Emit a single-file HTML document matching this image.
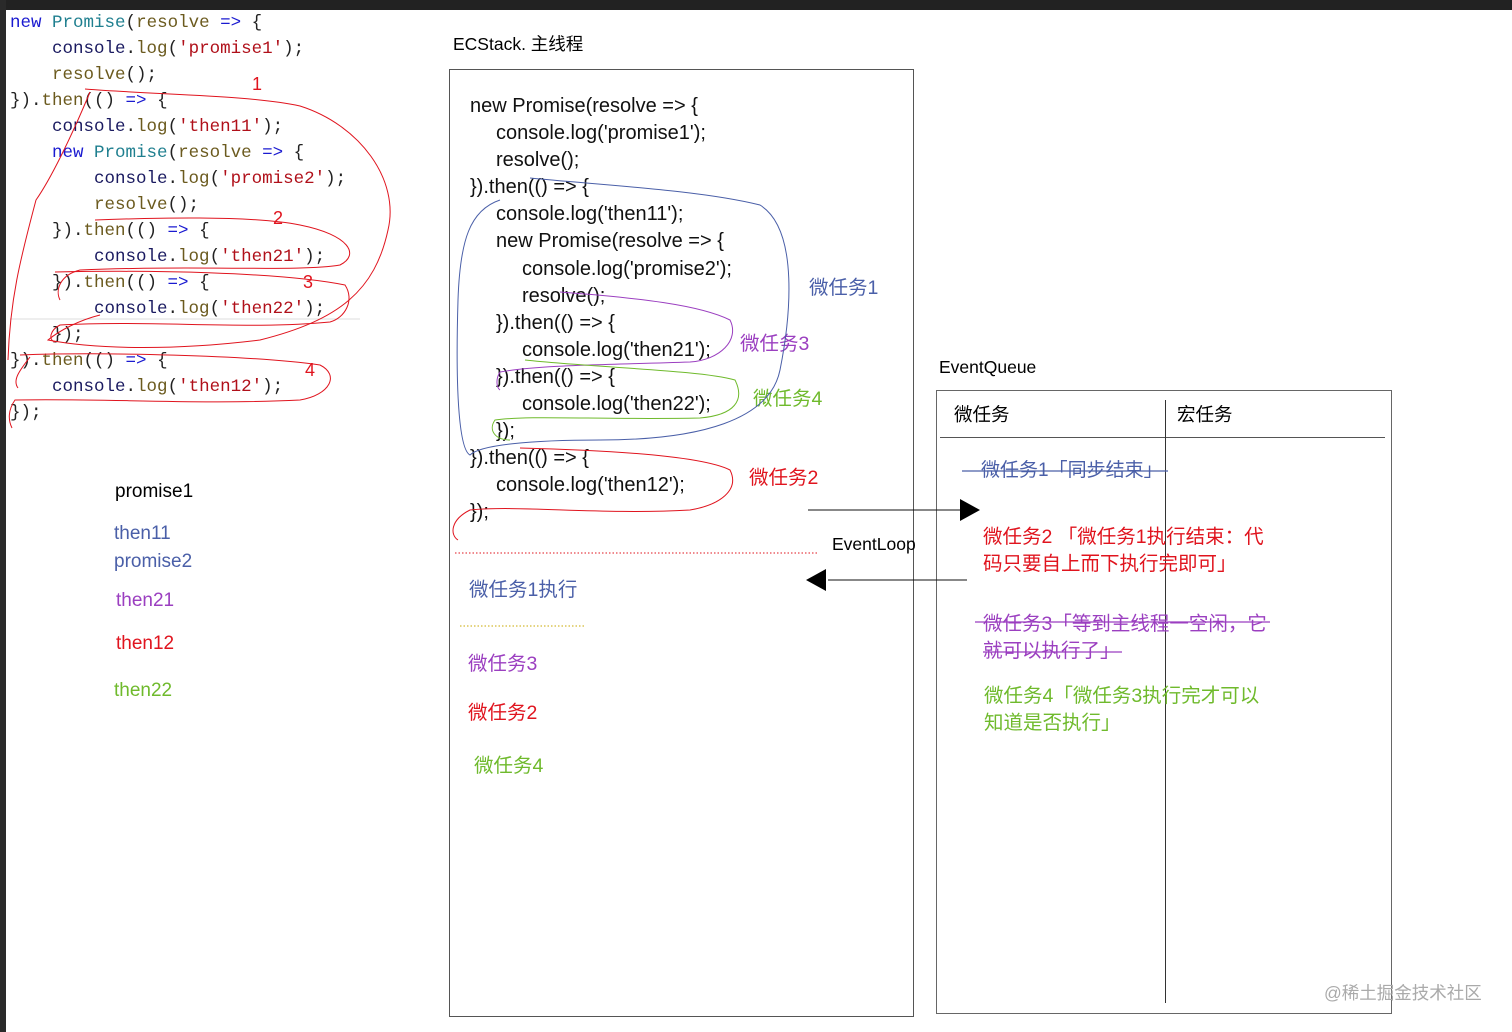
<!DOCTYPE html>
<html><head><meta charset="utf-8"><style>
body{margin:0;width:1512px;height:1032px;background:#fff;position:relative;overflow:hidden;font-family:"Liberation Sans","Noto Sans CJK SC",sans-serif}
.a{position:absolute;white-space:pre;line-height:1}
.m{font-family:"Liberation Mono",monospace;font-size:17.5px}
.s{position:absolute;font-size:20px;color:#111;line-height:27.1px;white-space:nowrap}
.s div{height:27.1px}
.i1{padding-left:26px}.i2{padding-left:52px}
.k{color:#1a1ad0}.t{color:#1f7f8f}.f{color:#6b5a1e}.st{color:#b0101a}.d{color:#1a1a60}
</style></head><body>
<div style="position:absolute;left:0;top:0;width:1512px;height:10px;background:#222"></div>
<div style="position:absolute;left:0;top:0;width:6px;height:1032px;background:#2a2a2a"></div>

<div class="a m" style="left:10px;top:10px;line-height:26px;color:#222"><span class="k">new</span> <span class="t">Promise</span>(<span class="f">resolve</span> <span class="k">=&gt;</span> {
    <span class="d">console</span>.<span class="f">log</span>(<span class="st">'promise1'</span>);
    <span class="f">resolve</span>();
}).<span class="f">then</span>(() <span class="k">=&gt;</span> {
    <span class="d">console</span>.<span class="f">log</span>(<span class="st">'then11'</span>);
    <span class="k">new</span> <span class="t">Promise</span>(<span class="f">resolve</span> <span class="k">=&gt;</span> {
        <span class="d">console</span>.<span class="f">log</span>(<span class="st">'promise2'</span>);
        <span class="f">resolve</span>();
    }).<span class="f">then</span>(() <span class="k">=&gt;</span> {
        <span class="d">console</span>.<span class="f">log</span>(<span class="st">'then21'</span>);
    }).<span class="f">then</span>(() <span class="k">=&gt;</span> {
        <span class="d">console</span>.<span class="f">log</span>(<span class="st">'then22'</span>);
    });
}).<span class="f">then</span>(() <span class="k">=&gt;</span> {
    <span class="d">console</span>.<span class="f">log</span>(<span class="st">'then12'</span>);
});</div>

<div class="a" style="left:115px;top:482px;font-size:19px">promise1</div>
<div class="a" style="left:114px;top:520px;font-size:19px;color:#4a5fa8;line-height:28px">then11
promise2</div>
<div class="a" style="left:116px;top:591px;font-size:19px;color:#9b3fc0">then21</div>
<div class="a" style="left:116px;top:634px;font-size:19px;color:#e0141e">then12</div>
<div class="a" style="left:114px;top:681px;font-size:19px;color:#6fba2c">then22</div>

<div class="a" style="left:453px;top:36px;font-size:17.5px">ECStack. 主线程</div>
<div style="position:absolute;left:449px;top:69px;width:463px;height:946px;border:1px solid #555"></div>
<div class="s" style="left:470px;top:93px"><div>new Promise(resolve =&gt; {</div><div class="i1">console.log('promise1');</div><div class="i1">resolve();</div><div>}).then(() =&gt; {</div><div class="i1">console.log('then11');</div><div class="i1">new Promise(resolve =&gt; {</div><div class="i2">console.log('promise2');</div><div class="i2">resolve();</div><div class="i1">}).then(() =&gt; {</div><div class="i2">console.log('then21');</div><div class="i1">}).then(() =&gt; {</div><div class="i2">console.log('then22');</div><div class="i1">});</div><div>}).then(() =&gt; {</div><div class="i1">console.log('then12');</div><div>});</div></div>
<div class="a" style="left:809px;top:279px;font-size:19.5px;color:#4a5fa8">微任务1</div>
<div class="a" style="left:740px;top:335px;font-size:19.5px;color:#9b3fc0">微任务3</div>
<div class="a" style="left:753px;top:390px;font-size:19.5px;color:#6fba2c">微任务4</div>
<div class="a" style="left:749px;top:469px;font-size:19.5px;color:#e0141e">微任务2</div>
<div class="a" style="left:832px;top:536px;font-size:17.5px">EventLoop</div>
<div class="a" style="left:469px;top:581px;font-size:19.5px;color:#4a5fa8">微任务1执行</div>
<div class="a" style="left:468px;top:655px;font-size:19.5px;color:#9b3fc0">微任务3</div>
<div class="a" style="left:468px;top:704px;font-size:19.5px;color:#e0141e">微任务2</div>
<div class="a" style="left:474px;top:757px;font-size:19.5px;color:#6fba2c">微任务4</div>

<div class="a" style="left:939px;top:359px;font-size:17.5px">EventQueue</div>
<div style="position:absolute;left:936px;top:390px;width:454px;height:622px;border:1px solid #666"></div>
<div style="position:absolute;left:940px;top:437px;width:445px;height:1px;background:#555"></div>
<div style="position:absolute;left:1165px;top:400px;width:1px;height:603px;background:#333"></div>
<div class="a" style="left:954px;top:406px;font-size:18.5px">微任务</div>
<div class="a" style="left:1177px;top:406px;font-size:18.5px">宏任务</div>
<div class="a" style="left:981px;top:461px;font-size:19px;color:#4a5fa8">微任务1「同步结束」</div>
<div class="a" style="left:983px;top:524px;font-size:19.5px;color:#e0141e;line-height:27px">微任务2 「微任务1执行结束：代
码只要自上而下执行完即可」</div>
<div class="a" style="left:983px;top:611px;font-size:19.5px;color:#9b3fc0;line-height:27px">微任务3「等到主线程一空闲，它
就可以执行了」</div>
<div class="a" style="left:984px;top:683px;font-size:19.5px;color:#6fba2c;line-height:27px">微任务4「微任务3执行完才可以
知道是否执行」</div>
<div class="a" style="left:1324px;top:985px;font-size:17.5px;color:#aaa">@稀土掘金技术社区</div>

<svg width="1512" height="1032" style="position:absolute;left:0;top:0" fill="none">
<line x1="962" y1="471" x2="1168" y2="471" stroke="#4a5fa8" stroke-width="1.3"/>
<line x1="975" y1="622" x2="1270" y2="622" stroke="#9b3fc0" stroke-width="1.3"/>
<line x1="983" y1="652" x2="1122" y2="652" stroke="#9b3fc0" stroke-width="1.3"/>
<line x1="808" y1="510" x2="962" y2="510" stroke="#111"/>
<polygon points="960,499 980,510 960,521" fill="#000"/>
<line x1="828" y1="580" x2="967" y2="580" stroke="#111"/>
<polygon points="826,569 806,580 826,591" fill="#000"/>
<line x1="455" y1="553" x2="818" y2="553" stroke="#e0141e" stroke-dasharray="1.5,2"/>
<line x1="460" y1="626" x2="585" y2="626" stroke="#c9a800" stroke-dasharray="1.5,2"/>
<line x1="10" y1="319" x2="360" y2="319" stroke="#ddd"/>
<g stroke="#e0141e" stroke-width="1">
<text x="252" y="90" fill="#e0141e" stroke="none" font-size="18" font-family="Liberation Sans">1</text>
<text x="273" y="224" fill="#e0141e" stroke="none" font-size="18" font-family="Liberation Sans">2</text>
<text x="303" y="288" fill="#e0141e" stroke="none" font-size="18" font-family="Liberation Sans">3</text>
<text x="305" y="376" fill="#e0141e" stroke="none" font-size="18" font-family="Liberation Sans">4</text>
<path d="M85,89 C160,95 250,95 300,106 C360,125 400,180 388,230 C375,290 340,320 260,340 C180,350 100,350 48,340 C60,330 80,320 100,315"/>
<path d="M90,92 C70,140 50,180 36,200 C20,260 10,300 8,360"/>
<path d="M95,220 C150,218 250,215 300,225 C350,235 360,255 340,265 C300,272 200,265 80,270 C60,275 55,290 60,300"/>
<path d="M55,272 C150,270 280,272 345,285 C355,300 345,318 330,322 C250,330 150,320 60,325 C50,330 48,340 55,342"/>
<path d="M20,355 C100,352 250,355 320,365 C340,375 330,395 300,400 C200,405 100,398 15,400 C8,410 8,420 12,428"/>
<path d="M30,357 C20,370 12,380 18,388"/>
</g>
<g stroke-width="1">
<path d="M530,178 C600,185 700,190 760,205 C800,230 790,320 780,370 C770,420 700,440 600,440 C530,440 480,445 470,455 C460,450 455,400 458,300 C460,240 470,210 500,200" stroke="#4a5fa8"/>
<path d="M560,292 C640,298 700,305 730,320 C740,340 720,360 690,362 C600,365 540,365 500,372 C495,380 497,388 500,390" stroke="#9b3fc0"/>
<path d="M525,360 C600,368 700,370 735,380 C745,400 735,415 700,418 C600,420 530,415 495,420 C488,430 495,440 510,440" stroke="#6fba2c"/>
<path d="M520,448 C600,450 700,455 730,470 C740,490 720,505 690,510 C600,515 520,505 470,510 C450,520 450,535 458,540" stroke="#e0141e"/>
</g>
</svg>
</body></html>
